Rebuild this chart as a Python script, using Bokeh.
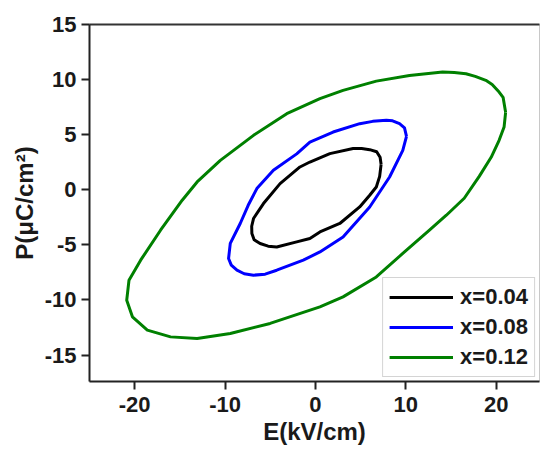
from bokeh.plotting import figure
from bokeh.models import Range1d, LinearAxis, FixedTicker, Legend, LegendItem
from bokeh.embed import file_html
from bokeh.resources import INLINE

# Loop x=0.04 (E in kV/cm, P in uC/cm2)
e_004 = [7.27, 7.16, 6.78, 6.01, 5.12, 4.17, 1.60, -0.61, -1.71, -3.91, -5.75, -6.85, -7.05,
         -7.03, -6.78, -6.12, -5.23, -4.28, -2.07, -0.61, 0.50, 2.70, 4.90, 6.01, 6.74, 7.11, 7.27]
p_004 = [2.31, 2.95, 3.45, 3.64, 3.74, 3.74, 3.28, 2.52, 2.07, 0.56, -1.25, -2.61, -3.31,
         -3.97, -4.53, -4.88, -5.12, -5.19, -4.73, -4.42, -3.83, -3.06, -1.56, -0.50, 0.25, 1.22, 2.31]

# Loop x=0.08
e_008 = [10.08, 9.86, 9.31, 8.54, 7.85, 6.34, 4.91, 1.96, -0.61, -2.07, -4.65, -6.48, -7.44,
         -8.32, -9.42, -9.61, -9.31, -8.68, -7.88, -6.85, -5.56, -4.28, -1.34, 0.50, 3.06,
         6.01, 8.21, 9.67, 10.08]
p_008 = [4.85, 5.62, 6.00, 6.26, 6.30, 6.21, 6.00, 5.24, 4.33, 3.26, 1.77, 0.11, -1.41,
         -3.06, -4.87, -6.24, -6.84, -7.30, -7.62, -7.75, -7.66, -7.30, -6.39, -5.64, -4.28,
         -1.56, 1.16, 3.58, 4.85]

# Loop x=0.12
e_012 = [21.05, 20.77, 20.33, 19.56, 18.86, 17.69, 16.66, 15.37, 14.08, 10.41, 6.74, 3.06,
         0.50, -3.17, -6.85, -10.52, -13.09, -14.74, -17.14, -19.34, -20.63, -20.88, -20.25,
         -18.60, -16.03, -13.09, -9.42, -5.01, 0.50, 3.06, 6.74, 9.67, 12.62, 14.49, 16.47,
         18.13, 19.45, 20.33, 20.88, 21.05]
p_012 = [7.03, 8.39, 8.87, 9.56, 9.93, 10.29, 10.53, 10.65, 10.68, 10.38, 9.86, 9.02,
         8.27, 6.91, 4.94, 2.67, 0.71, -0.95, -3.67, -6.39, -8.21, -10.02, -11.53,
         -12.74, -13.35, -13.49, -13.04, -12.13, -10.63, -9.72, -7.91, -5.78, -3.67, -2.31, -0.77,
         1.22, 2.95, 4.49, 5.69, 7.03]

labels = ["x=0.04", "x=0.08", "x=0.12"]
colors = ["black", "#0000ff", "#008000"]

x_ticks = [-20, -10, 0, 10, 20]
x_tick_labels = ["-20", "-10", "0", "10", "20"]
y_ticks = [-15, -10, -5, 0, 5, 10, 15]
y_tick_labels = ["-15", "-10", "-5", "0", "5", "10", "15"]

FONT = "Liberation Sans"

p = figure(width=541, height=453, output_backend="svg", toolbar_location=None,
           x_range=Range1d(-25, 24.8), y_range=Range1d(-17.4, 15),
           min_border_left=89, min_border_right=2, min_border_top=24, min_border_bottom=72)
p.background_fill_color = "white"
p.border_fill_color = "white"
p.xgrid.visible = False
p.ygrid.visible = False
p.outline_line_color = "#c8c8c8"
p.outline_line_width = 1

renderers = []
for ex, py, c in zip([e_004, e_008, e_012], [p_004, p_008, p_012], colors):
    r = p.line(ex, py, line_color=c, line_width=3, line_join="round")
    renderers.append(r)

for ax in (p.xaxis[0], p.yaxis[0]):
    ax.axis_line_width = 2
    ax.axis_line_color = "#222222"
    ax.major_tick_line_width = 2
    ax.major_tick_line_color = "#222222"
    ax.major_tick_out = 8
    ax.major_tick_in = 0
    ax.minor_tick_line_color = None
    ax.major_label_text_font = FONT
    ax.major_label_text_font_style = "bold"
    ax.major_label_text_font_size = "22px"
    ax.major_label_text_color = "#1a1a1a"
    ax.axis_label_text_font = FONT
    ax.axis_label_text_font_style = "bold"
    ax.axis_label_text_font_size = "24px"
    ax.axis_label_text_color = "#1a1a1a"

p.xaxis[0].ticker = FixedTicker(ticks=x_ticks)
p.yaxis[0].ticker = FixedTicker(ticks=y_ticks)
p.xaxis[0].major_label_overrides = {float(t): s for t, s in zip(x_ticks, x_tick_labels)}
p.yaxis[0].major_label_overrides = {float(t): s for t, s in zip(y_ticks, y_tick_labels)}
p.xaxis[0].axis_label = "E(kV/cm)"
p.yaxis[0].axis_label = "P(\u03bcC/cm\u00b2)"
p.xaxis[0].axis_label_standoff = 3
p.yaxis[0].axis_label_standoff = 4
p.xaxis[0].major_label_standoff = 7
p.yaxis[0].major_label_standoff = 5

top = LinearAxis(ticker=FixedTicker(ticks=[]), major_label_text_font_size="0px",
                 axis_line_width=2, axis_line_color="#333333",
                 major_tick_line_color=None, minor_tick_line_color=None)
p.add_layout(top, "above")

legend = Legend(items=[LegendItem(label=l, renderers=[r]) for l, r in zip(labels, renderers)],
                location="bottom_right")
legend.label_text_font = FONT
legend.label_text_font_style = "bold"
legend.label_text_font_size = "22px"
legend.label_text_color = "#1a1a1a"
legend.glyph_width = 64
legend.glyph_height = 26
legend.label_standoff = 7
legend.label_height = 26
legend.spacing = 4
legend.padding = 6
legend.margin = 4
legend.border_line_color = "#aaaaaa"
legend.border_line_width = 1
legend.background_fill_alpha = 1
p.add_layout(legend)

open("out.html", "w").write(file_html(p, INLINE))
